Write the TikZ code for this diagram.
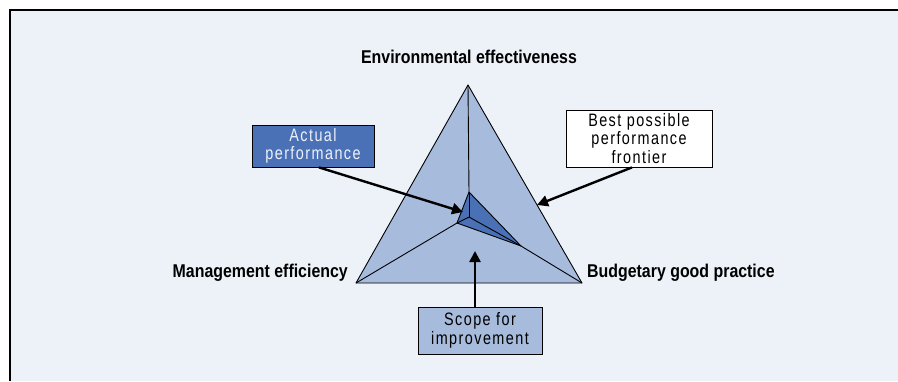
\documentclass[tikz,border=0pt]{standalone}
\usepackage{fontspec}
\setmainfont{Liberation Sans}
\newfontfamily\boxfont[FakeStretch=0.8,LetterSpace=8]{Liberation Sans}
\newfontfamily\labfont[FakeStretch=0.86]{Liberation Sans}
\usetikzlibrary{arrows.meta}
\definecolor{bgblue}{HTML}{EDF1F8}
\definecolor{triblue}{HTML}{A7BBDD}
\definecolor{darkblue}{HTML}{4A70B6}
\definecolor{lighttext}{HTML}{EEF2FA}
\tikzset{
  axislabel/.style={font=\labfont\bfseries\fontsize{18.5}{20}\selectfont, inner sep=0pt},
  callout/.style={draw=black, line width=0.8pt, align=center, inner sep=0pt,
    font=\boxfont\fontsize{18}{18.5}\selectfont},
  pointer/.style={line width=2.4pt, -{Triangle[length=11pt,width=11pt]}},
  edge/.style={line width=0.9pt, line join=round}
}
\begin{document}
\begin{tikzpicture}[x=1pt,y=-1pt]
\useasboundingbox (0,0) rectangle (898,381);
% background and frame
\fill[bgblue] (10,10) rectangle (898,381);
\draw[line width=2.2pt, black] (9.7,381) -- (9.7,9.7) -- (898,9.7);
% radar pyramid
\coordinate (A) at (468,85);
\coordinate (BL) at (356,283);
\coordinate (BR) at (582,283);
\coordinate (C) at (469,217);
\coordinate (T) at (469,192);
\coordinate (L) at (457,223);
\coordinate (R) at (521,246);
\filldraw[fill=triblue, edge] (A) -- (BL) -- (BR) -- cycle;
\draw[edge] (A) -- (T);
\draw[edge] (BL) -- (L);
\draw[edge] (BR) -- (R);
\filldraw[fill=darkblue, edge] (T) -- (L) -- (R) -- cycle;
\draw[edge] (C) -- (T);
\draw[edge] (C) -- (L);
\draw[edge] (C) -- (R);
% axis labels
\node[axislabel, anchor=base] (env) at (469,63) {Environmental effectiveness};
\node[axislabel, anchor=base east] (mgmt) at (348,277) {Management efficiency};
\node[axislabel, anchor=base west] (budg) at (587,277) {Budgetary good practice};
% callouts
\node[callout, fill=darkblue, text=lighttext, minimum width=122pt, minimum height=42pt] (actual) at (313,146) {Actual\\performance};
\node[callout, fill=white, minimum width=146pt, minimum height=57pt] (best) at (639,138.5) {Best possible\\performance\\frontier};
\node[callout, fill=triblue, minimum width=124pt, minimum height=47pt] (scope) at (480,330.5) {Scope for\\improvement};
% pointers
\coordinate (actualtip) at (463,212);
\coordinate (besttip) at (537,205);
\coordinate (scopetip) at (475,251);
\draw[pointer] ([xshift=6pt]actual.south) -- (actualtip);
\draw[pointer] ([xshift=-7pt]best.south) -- (besttip);
\draw[pointer] ([xshift=-5pt]scope.north) -- (scopetip);
\end{tikzpicture}
\end{document}
